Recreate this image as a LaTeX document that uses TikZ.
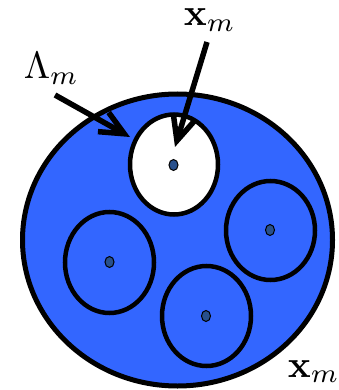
\documentclass[tikz,border=0pt]{standalone}
\usetikzlibrary{arrows.meta}
\definecolor{regionblue}{RGB}{51,102,255}
\definecolor{dotblue}{RGB}{40,80,140}
\tikzset{
  region/.style={draw=black, line width=5pt, fill=regionblue},
  ball/.style={draw=black, line width=4.5pt},
  centre/.style={draw=black, line width=1pt, fill=dotblue},
  pointer/.style={line width=5.5pt, -{Straight Barb[length=24pt,width=22pt,line cap=butt]}},
  lbl/.style={inner sep=0pt, anchor=base west, transform shape, scale=3.8}
}
\begin{document}
\begin{tikzpicture}[x=1pt,y=-1pt]
\useasboundingbox (0,0) rectangle (339,390);
% outer region
\draw[region] (177.5,240) ellipse [x radius=155, y radius=146];
% hole
\draw[ball, fill=white] (174,164.5) ellipse [x radius=44, y radius=50];
% other balls
\draw[ball] (109.5,262.5) ellipse [x radius=44.5, y radius=50.5];
\draw[ball] (270.5,230.5) ellipse [x radius=44.5, y radius=49.5];
\draw[ball] (206.5,316) ellipse [x radius=44.5, y radius=50];
% centres
\draw[centre] (173.5,165) ellipse [x radius=4.5, y radius=5.5];
\draw[centre] (109.5,262) ellipse [x radius=4.5, y radius=5.5];
\draw[centre] (270,230) ellipse [x radius=4.5, y radius=5.5];
\draw[centre] (206,316) ellipse [x radius=4.5, y radius=5.5];
% labels
\node[lbl] (lam) at (23,79) {$\Lambda_m$};
\node[lbl] (xtop) at (183,26) {$\mathbf{x}_m$};
\node[lbl] (xbot) at (287,377) {$\mathbf{x}_m$};
% arrow ends
\coordinate (lamS) at (55,95);
\coordinate (lamE) at (130,137);
\coordinate (xS) at (207,42);
\coordinate (xE) at (175,147);
\draw[pointer] (lamS) -- (lamE);
\draw[pointer] (xS) -- (xE);
\end{tikzpicture}
\end{document}
